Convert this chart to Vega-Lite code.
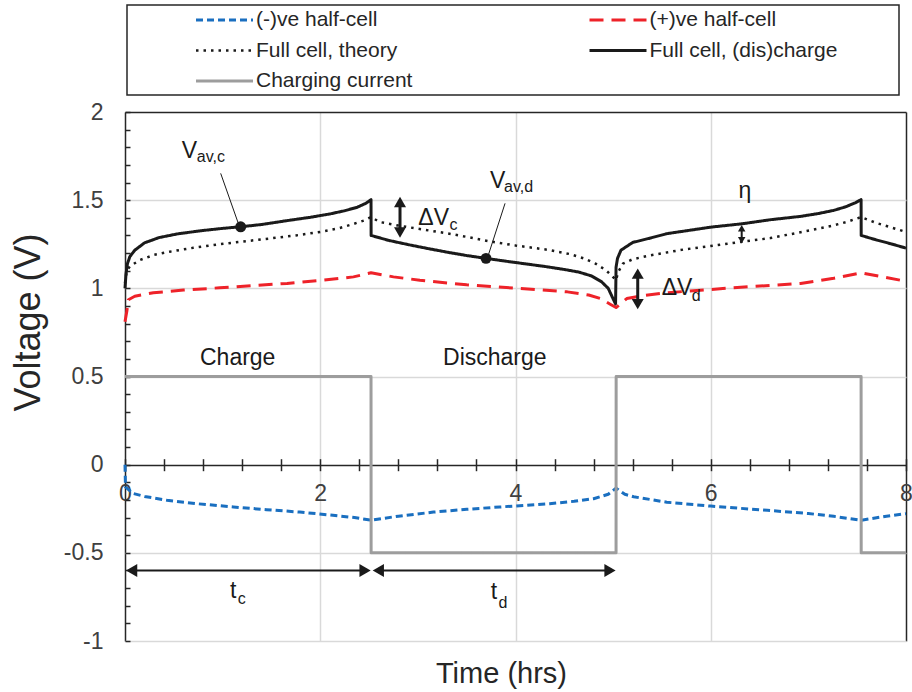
{
  "$schema": "https://vega.github.io/schema/vega-lite/v6.json",
  "width": 781,
  "height": 529,
  "autosize": {"type": "none"},
  "padding": {"left": 125, "top": 112, "right": 6, "bottom": 51},
  "background": "white",
  "config": {
    "font": "Liberation Sans",
    "view": {"stroke": null},
    "legend": {"strokeWidth": 1.5}
  },
  "datasets": {
    "curves": [
      {"s": "(-)ve half-cell", "t": 0, "v": 0},
      {"s": "(-)ve half-cell", "t": 0.005, "v": -0.126},
      {"s": "(-)ve half-cell", "t": 0.08, "v": -0.163},
      {"s": "(-)ve half-cell", "t": 0.2, "v": -0.18},
      {"s": "(-)ve half-cell", "t": 0.43, "v": -0.202},
      {"s": "(-)ve half-cell", "t": 0.75, "v": -0.222},
      {"s": "(-)ve half-cell", "t": 1.11, "v": -0.24},
      {"s": "(-)ve half-cell", "t": 1.45, "v": -0.255},
      {"s": "(-)ve half-cell", "t": 1.79, "v": -0.269},
      {"s": "(-)ve half-cell", "t": 2.13, "v": -0.287},
      {"s": "(-)ve half-cell", "t": 2.35, "v": -0.3},
      {"s": "(-)ve half-cell", "t": 2.52, "v": -0.315},
      {"s": "(-)ve half-cell", "t": 2.8, "v": -0.292},
      {"s": "(-)ve half-cell", "t": 3.16, "v": -0.269},
      {"s": "(-)ve half-cell", "t": 3.5, "v": -0.253},
      {"s": "(-)ve half-cell", "t": 3.84, "v": -0.24},
      {"s": "(-)ve half-cell", "t": 4.35, "v": -0.221},
      {"s": "(-)ve half-cell", "t": 4.6, "v": -0.208},
      {"s": "(-)ve half-cell", "t": 4.8, "v": -0.193},
      {"s": "(-)ve half-cell", "t": 4.95, "v": -0.168},
      {"s": "(-)ve half-cell", "t": 5.03, "v": -0.133},
      {"s": "(-)ve half-cell", "t": 5.12, "v": -0.168},
      {"s": "(-)ve half-cell", "t": 5.21, "v": -0.182},
      {"s": "(-)ve half-cell", "t": 5.55, "v": -0.213},
      {"s": "(-)ve half-cell", "t": 6.0, "v": -0.235},
      {"s": "(-)ve half-cell", "t": 6.58, "v": -0.259},
      {"s": "(-)ve half-cell", "t": 7.0, "v": -0.277},
      {"s": "(-)ve half-cell", "t": 7.26, "v": -0.293},
      {"s": "(-)ve half-cell", "t": 7.54, "v": -0.315},
      {"s": "(-)ve half-cell", "t": 7.8, "v": -0.292},
      {"s": "(-)ve half-cell", "t": 8.0, "v": -0.278},

      {"s": "(+)ve half-cell", "t": 0, "v": 0.81},
      {"s": "(+)ve half-cell", "t": 0.02, "v": 0.875},
      {"s": "(+)ve half-cell", "t": 0.035, "v": 0.935},
      {"s": "(+)ve half-cell", "t": 0.1, "v": 0.955},
      {"s": "(+)ve half-cell", "t": 0.29, "v": 0.975},
      {"s": "(+)ve half-cell", "t": 0.6, "v": 0.99},
      {"s": "(+)ve half-cell", "t": 0.97, "v": 1.003},
      {"s": "(+)ve half-cell", "t": 1.3, "v": 1.015},
      {"s": "(+)ve half-cell", "t": 1.66, "v": 1.028},
      {"s": "(+)ve half-cell", "t": 2.0, "v": 1.045},
      {"s": "(+)ve half-cell", "t": 2.34, "v": 1.065},
      {"s": "(+)ve half-cell", "t": 2.52, "v": 1.088},
      {"s": "(+)ve half-cell", "t": 2.75, "v": 1.065},
      {"s": "(+)ve half-cell", "t": 3.02, "v": 1.046},
      {"s": "(+)ve half-cell", "t": 3.5, "v": 1.02},
      {"s": "(+)ve half-cell", "t": 4.05, "v": 0.999},
      {"s": "(+)ve half-cell", "t": 4.53, "v": 0.98},
      {"s": "(+)ve half-cell", "t": 4.75, "v": 0.962},
      {"s": "(+)ve half-cell", "t": 4.87, "v": 0.942},
      {"s": "(+)ve half-cell", "t": 4.97, "v": 0.91},
      {"s": "(+)ve half-cell", "t": 5.03, "v": 0.891},
      {"s": "(+)ve half-cell", "t": 5.14, "v": 0.942},
      {"s": "(+)ve half-cell", "t": 5.3, "v": 0.958},
      {"s": "(+)ve half-cell", "t": 5.55, "v": 0.975},
      {"s": "(+)ve half-cell", "t": 6.23, "v": 1.003},
      {"s": "(+)ve half-cell", "t": 6.92, "v": 1.028},
      {"s": "(+)ve half-cell", "t": 7.26, "v": 1.057},
      {"s": "(+)ve half-cell", "t": 7.54, "v": 1.088},
      {"s": "(+)ve half-cell", "t": 8.0, "v": 1.04},

      {"s": "Full cell, theory", "t": 0, "v": 1.03},
      {"s": "Full cell, theory", "t": 0.01, "v": 1.07},
      {"s": "Full cell, theory", "t": 0.02, "v": 1.1},
      {"s": "Full cell, theory", "t": 0.05, "v": 1.125},
      {"s": "Full cell, theory", "t": 0.15, "v": 1.16},
      {"s": "Full cell, theory", "t": 0.3, "v": 1.19},
      {"s": "Full cell, theory", "t": 0.46, "v": 1.208},
      {"s": "Full cell, theory", "t": 0.7, "v": 1.23},
      {"s": "Full cell, theory", "t": 0.97, "v": 1.25},
      {"s": "Full cell, theory", "t": 1.2, "v": 1.265},
      {"s": "Full cell, theory", "t": 1.49, "v": 1.283},
      {"s": "Full cell, theory", "t": 1.75, "v": 1.3},
      {"s": "Full cell, theory", "t": 2.0, "v": 1.32},
      {"s": "Full cell, theory", "t": 2.2, "v": 1.342},
      {"s": "Full cell, theory", "t": 2.34, "v": 1.365},
      {"s": "Full cell, theory", "t": 2.45, "v": 1.385},
      {"s": "Full cell, theory", "t": 2.52, "v": 1.404},
      {"s": "Full cell, theory", "t": 2.61, "v": 1.376},
      {"s": "Full cell, theory", "t": 2.8, "v": 1.356},
      {"s": "Full cell, theory", "t": 3.0, "v": 1.338},
      {"s": "Full cell, theory", "t": 3.3, "v": 1.312},
      {"s": "Full cell, theory", "t": 3.5, "v": 1.292},
      {"s": "Full cell, theory", "t": 3.74, "v": 1.266},
      {"s": "Full cell, theory", "t": 4.0, "v": 1.243},
      {"s": "Full cell, theory", "t": 4.35, "v": 1.217},
      {"s": "Full cell, theory", "t": 4.55, "v": 1.195},
      {"s": "Full cell, theory", "t": 4.7, "v": 1.17},
      {"s": "Full cell, theory", "t": 4.82, "v": 1.14},
      {"s": "Full cell, theory", "t": 4.92, "v": 1.105},
      {"s": "Full cell, theory", "t": 4.98, "v": 1.075},
      {"s": "Full cell, theory", "t": 5.03, "v": 1.046},
      {"s": "Full cell, theory", "t": 5.05, "v": 1.09},
      {"s": "Full cell, theory", "t": 5.1, "v": 1.14},
      {"s": "Full cell, theory", "t": 5.2, "v": 1.165},
      {"s": "Full cell, theory", "t": 5.38, "v": 1.187},
      {"s": "Full cell, theory", "t": 5.72, "v": 1.22},
      {"s": "Full cell, theory", "t": 6.0, "v": 1.24},
      {"s": "Full cell, theory", "t": 6.32, "v": 1.264},
      {"s": "Full cell, theory", "t": 6.61, "v": 1.285},
      {"s": "Full cell, theory", "t": 6.92, "v": 1.318},
      {"s": "Full cell, theory", "t": 7.1, "v": 1.338},
      {"s": "Full cell, theory", "t": 7.26, "v": 1.357},
      {"s": "Full cell, theory", "t": 7.4, "v": 1.378},
      {"s": "Full cell, theory", "t": 7.54, "v": 1.404},
      {"s": "Full cell, theory", "t": 7.7, "v": 1.37},
      {"s": "Full cell, theory", "t": 7.85, "v": 1.345},
      {"s": "Full cell, theory", "t": 8.0, "v": 1.32},

      {"s": "Full cell, (dis)charge", "t": 0, "v": 1.0},
      {"s": "Full cell, (dis)charge", "t": 0.01, "v": 1.08},
      {"s": "Full cell, (dis)charge", "t": 0.025, "v": 1.14},
      {"s": "Full cell, (dis)charge", "t": 0.05, "v": 1.18},
      {"s": "Full cell, (dis)charge", "t": 0.1, "v": 1.216},
      {"s": "Full cell, (dis)charge", "t": 0.2, "v": 1.258},
      {"s": "Full cell, (dis)charge", "t": 0.35, "v": 1.288},
      {"s": "Full cell, (dis)charge", "t": 0.55, "v": 1.31},
      {"s": "Full cell, (dis)charge", "t": 0.8, "v": 1.328},
      {"s": "Full cell, (dis)charge", "t": 1.0, "v": 1.34},
      {"s": "Full cell, (dis)charge", "t": 1.185, "v": 1.349},
      {"s": "Full cell, (dis)charge", "t": 1.4, "v": 1.362},
      {"s": "Full cell, (dis)charge", "t": 1.66, "v": 1.384},
      {"s": "Full cell, (dis)charge", "t": 1.9, "v": 1.403},
      {"s": "Full cell, (dis)charge", "t": 2.1, "v": 1.422},
      {"s": "Full cell, (dis)charge", "t": 2.25, "v": 1.44},
      {"s": "Full cell, (dis)charge", "t": 2.38, "v": 1.46},
      {"s": "Full cell, (dis)charge", "t": 2.47, "v": 1.483},
      {"s": "Full cell, (dis)charge", "t": 2.52, "v": 1.503},
      {"s": "Full cell, (dis)charge", "t": 2.521, "v": 1.3},
      {"s": "Full cell, (dis)charge", "t": 2.7, "v": 1.272},
      {"s": "Full cell, (dis)charge", "t": 2.9, "v": 1.248},
      {"s": "Full cell, (dis)charge", "t": 3.1, "v": 1.226},
      {"s": "Full cell, (dis)charge", "t": 3.3, "v": 1.205},
      {"s": "Full cell, (dis)charge", "t": 3.5, "v": 1.186},
      {"s": "Full cell, (dis)charge", "t": 3.698, "v": 1.17},
      {"s": "Full cell, (dis)charge", "t": 3.9, "v": 1.154},
      {"s": "Full cell, (dis)charge", "t": 4.1, "v": 1.139},
      {"s": "Full cell, (dis)charge", "t": 4.3, "v": 1.124},
      {"s": "Full cell, (dis)charge", "t": 4.5, "v": 1.107},
      {"s": "Full cell, (dis)charge", "t": 4.65, "v": 1.092},
      {"s": "Full cell, (dis)charge", "t": 4.78, "v": 1.07},
      {"s": "Full cell, (dis)charge", "t": 4.88, "v": 1.038},
      {"s": "Full cell, (dis)charge", "t": 4.95, "v": 1.0},
      {"s": "Full cell, (dis)charge", "t": 5.0, "v": 0.94},
      {"s": "Full cell, (dis)charge", "t": 5.025, "v": 0.912},
      {"s": "Full cell, (dis)charge", "t": 5.03, "v": 1.12},
      {"s": "Full cell, (dis)charge", "t": 5.045, "v": 1.17},
      {"s": "Full cell, (dis)charge", "t": 5.08, "v": 1.216},
      {"s": "Full cell, (dis)charge", "t": 5.2, "v": 1.26},
      {"s": "Full cell, (dis)charge", "t": 5.38, "v": 1.285},
      {"s": "Full cell, (dis)charge", "t": 5.55, "v": 1.31},
      {"s": "Full cell, (dis)charge", "t": 6.0, "v": 1.347},
      {"s": "Full cell, (dis)charge", "t": 6.32, "v": 1.366},
      {"s": "Full cell, (dis)charge", "t": 6.61, "v": 1.389},
      {"s": "Full cell, (dis)charge", "t": 6.92, "v": 1.408},
      {"s": "Full cell, (dis)charge", "t": 7.1, "v": 1.424},
      {"s": "Full cell, (dis)charge", "t": 7.26, "v": 1.442},
      {"s": "Full cell, (dis)charge", "t": 7.38, "v": 1.462},
      {"s": "Full cell, (dis)charge", "t": 7.48, "v": 1.485},
      {"s": "Full cell, (dis)charge", "t": 7.54, "v": 1.503},
      {"s": "Full cell, (dis)charge", "t": 7.541, "v": 1.3},
      {"s": "Full cell, (dis)charge", "t": 7.7, "v": 1.274},
      {"s": "Full cell, (dis)charge", "t": 7.85, "v": 1.252},
      {"s": "Full cell, (dis)charge", "t": 8.0, "v": 1.228},

      {"s": "Charging current", "t": 0, "v": 0.5},
      {"s": "Charging current", "t": 2.52, "v": 0.5},
      {"s": "Charging current", "t": 2.521, "v": -0.5},
      {"s": "Charging current", "t": 5.03, "v": -0.5},
      {"s": "Charging current", "t": 5.031, "v": 0.5},
      {"s": "Charging current", "t": 7.54, "v": 0.5},
      {"s": "Charging current", "t": 7.541, "v": -0.5},
      {"s": "Charging current", "t": 8.0, "v": -0.5}
    ],
    "dots": [
      {"t": 1.185, "v": 1.349},
      {"t": 3.698, "v": 1.17}
    ],
    "leaders": [
      {"t": 0.98, "v": 1.652, "t2": 1.161, "v2": 1.368},
      {"t": 3.893, "v": 1.482, "t2": 3.722, "v2": 1.189}
    ],
    "shaftsThick": [
      {"t": 2.817, "v": 1.4895, "t2": 2.817, "v2": 1.3165},
      {"t": 5.252, "v": 1.0835, "t2": 5.252, "v2": 0.9105}
    ],
    "shaftsThin": [
      {"t": 6.317, "v": 1.341, "t2": 6.317, "v2": 1.273},
      {"t": 0.068, "v": -0.6, "t2": 2.459, "v2": -0.6},
      {"t": 2.595, "v": -0.6, "t2": 4.968, "v2": -0.6}
    ],
    "headsUp": [
      {"t": 2.817, "v": 1.4895},
      {"t": 5.252, "v": 1.0835}
    ],
    "headsDown": [
      {"t": 2.817, "v": 1.3165},
      {"t": 5.252, "v": 0.9105}
    ],
    "headsUpSmall": [
      {"t": 6.317, "v": 1.341}
    ],
    "headsDownSmall": [
      {"t": 6.317, "v": 1.273}
    ],
    "headsLeft": [
      {"t": 0.068, "v": -0.6},
      {"t": 2.595, "v": -0.6}
    ],
    "headsRight": [
      {"t": 2.459, "v": -0.6},
      {"t": 4.968, "v": -0.6}
    ],
    "labels": [
      {"t": 0.582, "v": 1.737, "label": "V"},
      {"t": 3.74, "v": 1.567, "label": "V"},
      {"t": 3.005, "v": 1.359, "label": "ΔV"},
      {"t": 5.498, "v": 0.962, "label": "ΔV"},
      {"t": 6.284, "v": 1.511, "label": "η"},
      {"t": 0.768, "v": 0.568, "label": "Charge"},
      {"t": 3.258, "v": 0.568, "label": "Discharge"},
      {"t": 1.076, "v": -0.757, "label": "t"},
      {"t": 3.747, "v": -0.763, "label": "t"}
    ],
    "subs": [
      {"t": 0.735, "v": 1.718, "label": "av,c"},
      {"t": 3.883, "v": 1.548, "label": "av,d"},
      {"t": 3.323, "v": 1.33, "label": "c"},
      {"t": 5.806, "v": 0.93, "label": "d"},
      {"t": 1.154, "v": -0.791, "label": "c"},
      {"t": 3.825, "v": -0.812, "label": "d"}
    ]
  },
  "encoding": {
    "x": {
      "field": "t",
      "type": "quantitative",
      "scale": {"domain": [0, 8], "nice": false, "zero": false},
      "axis": {
        "title": "Time (hrs)",
        "titleFontSize": 29,
        "titleFontWeight": "normal",
        "titleColor": "#262626",
        "titleX": 376,
        "titleY": 224,
        "titleBaseline": "alphabetic",
        "titleAlign": "center",
        "values": [0, 0.4, 0.8, 1.2, 1.6, 2, 2.4, 2.8, 3.2, 3.6, 4, 4.4, 4.8, 5.2, 5.6, 6, 6.4, 6.8, 7.2, 7.6, 8],
        "domain": false,
        "offset": -182.3,
        "tickSize": 12,
        "tickWidth": 1.5,
        "tickColor": "#262626",
        "labelFontSize": 23,
        "labelColor": "#404040",
        "labelPadding": 12,
        "labelFlush": false,
        "labelOverlap": false,
        "labelExpr": "datum.value % 2 == 0 ? toString(datum.value) : ''",
        "grid": true,
        "gridWidth": 1.5,
        "gridColor": {"condition": {"test": "datum.value == 0 || datum.value == 8", "value": "#262626"}, "value": "#d9d9d9"},
        "gridOpacity": {"condition": {"test": "datum.value % 2 == 0", "value": 1}, "value": 0}
      }
    },
    "y": {
      "field": "v",
      "type": "quantitative",
      "scale": {"domain": [-1, 2], "nice": false, "zero": false},
      "axis": {
        "title": "Voltage (V)",
        "titleFontSize": 36,
        "titleFontWeight": "normal",
        "titleColor": "#262626",
        "titleX": -91,
        "titleY": 210,
        "titleAngle": 270,
        "titleBaseline": "alphabetic",
        "titleAlign": "center",
        "values": [-1, -0.9, -0.8, -0.7, -0.6, -0.5, -0.4, -0.3, -0.2, -0.1, 0, 0.1, 0.2, 0.3, 0.4, 0.5, 0.6, 0.7, 0.8, 0.9, 1, 1.1, 1.2, 1.3, 1.4, 1.5, 1.6, 1.7, 1.8, 1.9, 2],
        "domain": false,
        "offset": -5,
        "tickSize": 5,
        "tickWidth": 1.5,
        "tickColor": "#262626",
        "labelFontSize": 23,
        "labelColor": "#404040",
        "labelPadding": 22,
        "labelFlush": false,
        "labelOverlap": false,
        "labelExpr": "abs(datum.value * 2 - round(datum.value * 2)) < 0.001 ? toString(datum.value) : ''",
        "grid": true,
        "gridWidth": 1.5,
        "gridColor": {"condition": {"test": "abs(datum.value) < 0.001 || datum.value == 2", "value": "#262626"}, "value": "#d9d9d9"},
        "gridOpacity": {"condition": {"test": "abs(datum.value * 2 - round(datum.value * 2)) < 0.001", "value": 1}, "value": 0}
      }
    }
  },
  "layer": [
    {
      "data": {"name": "curves"},
      "mark": {"type": "line", "strokeCap": "butt", "strokeJoin": "round"},
      "encoding": {
        "color": {
          "field": "s",
          "type": "nominal",
          "scale": {
            "domain": ["(-)ve half-cell", "Full cell, theory", "Charging current", "(+)ve half-cell", "Full cell, (dis)charge"],
            "range": ["#1a6fc0", "#1a1a1a", "#9d9d9d", "#ee2229", "#1a1a1a"]
          },
          "legend": {
            "title": " ",
            "titleOrient": "right",
            "titlePadding": 58,
            "orient": "none",
            "legendX": 2,
            "legendY": -107,
            "columns": 2,
            "columnPadding": 111.5,
            "rowPadding": 9.5,
            "padding": 4,
            "symbolType": "M-3,0L3,0",
            "symbolSize": 361,
            "symbolOffset": 82.5,
            "labelOffset": 20.5,
            "labelFontSize": 21,
            "labelColor": "#262626",
            "labelLimit": 400,
            "strokeColor": "#262626"
          }
        },
        "strokeDash": {
          "field": "s",
          "type": "nominal",
          "scale": {
            "domain": ["(-)ve half-cell", "Full cell, theory", "Charging current", "(+)ve half-cell", "Full cell, (dis)charge"],
            "range": [[7, 4], [2.5, 5], [1, 0], [14, 8], [1, 0]]
          }
        },
        "strokeWidth": {
          "field": "s",
          "type": "nominal",
          "scale": {
            "type": "ordinal",
            "domain": ["(-)ve half-cell", "Full cell, theory", "Charging current", "(+)ve half-cell", "Full cell, (dis)charge"],
            "range": [3, 2.5, 3, 3, 3]
          }
        }
      }
    },
    {
      "data": {"name": "leaders"},
      "mark": {"type": "rule", "color": "#1a1a1a", "strokeWidth": 1},
      "encoding": {"x2": {"field": "t2"}, "y2": {"field": "v2"}}
    },
    {
      "data": {"name": "shaftsThick"},
      "mark": {"type": "rule", "color": "#1a1a1a", "strokeWidth": 3},
      "encoding": {"x2": {"field": "t2"}, "y2": {"field": "v2"}}
    },
    {
      "data": {"name": "shaftsThin"},
      "mark": {"type": "rule", "color": "#1a1a1a", "strokeWidth": 2},
      "encoding": {"x2": {"field": "t2"}, "y2": {"field": "v2"}}
    },
    {
      "data": {"name": "headsUp"},
      "mark": {"type": "point", "shape": "triangle-up", "filled": true, "size": 144, "color": "#1a1a1a", "opacity": 1, "strokeWidth": 0}
    },
    {
      "data": {"name": "headsDown"},
      "mark": {"type": "point", "shape": "triangle-down", "filled": true, "size": 144, "color": "#1a1a1a", "opacity": 1, "strokeWidth": 0}
    },
    {
      "data": {"name": "headsUpSmall"},
      "mark": {"type": "point", "shape": "triangle-up", "filled": true, "size": 56, "color": "#1a1a1a", "opacity": 1, "strokeWidth": 0}
    },
    {
      "data": {"name": "headsDownSmall"},
      "mark": {"type": "point", "shape": "triangle-down", "filled": true, "size": 56, "color": "#1a1a1a", "opacity": 1, "strokeWidth": 0}
    },
    {
      "data": {"name": "headsLeft"},
      "mark": {"type": "point", "shape": "triangle-left", "filled": true, "size": 169, "color": "#1a1a1a", "opacity": 1, "strokeWidth": 0}
    },
    {
      "data": {"name": "headsRight"},
      "mark": {"type": "point", "shape": "triangle-right", "filled": true, "size": 169, "color": "#1a1a1a", "opacity": 1, "strokeWidth": 0}
    },
    {
      "data": {"name": "dots"},
      "mark": {"type": "circle", "size": 120, "color": "#1a1a1a", "opacity": 1}
    },
    {
      "data": {"name": "labels"},
      "mark": {"type": "text", "align": "left", "baseline": "alphabetic", "fontSize": 23, "color": "#1a1a1a"},
      "encoding": {"text": {"field": "label"}}
    },
    {
      "data": {"name": "subs"},
      "mark": {"type": "text", "align": "left", "baseline": "alphabetic", "fontSize": 16, "color": "#1a1a1a"},
      "encoding": {"text": {"field": "label"}}
    }
  ]
}
